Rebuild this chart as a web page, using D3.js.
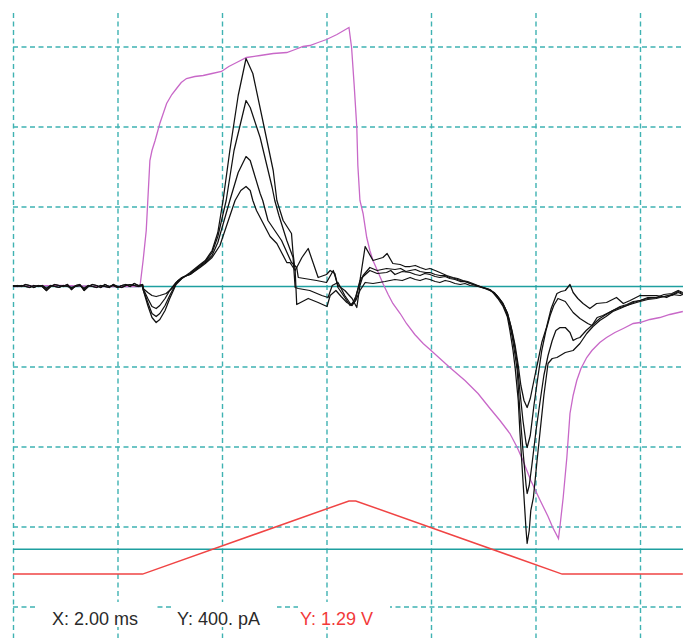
<!DOCTYPE html>
<html>
<head>
<meta charset="utf-8">
<script src="https://cdn.jsdelivr.net/npm/d3@7"></script>
<style>
  html, body { margin: 0; padding: 0; background: #fff; }
  svg { display: block; }
</style>
</head>
<body>
<svg id="chart" width="683" height="638"></svg>
<script>
// ---------------- DATA ----------------
// time in ms, current in pA, voltage in V
const xTicks = [0, 2, 4, 6, 8, 10, 12];
const yTicks = [1200, 800, 400, -400, -800, -1200, -1600];
const scaleLabels = ["X: 2.00 ms", "Y: 400. pA", "Y: 1.29 V"];

const baseT = [0,0.08,0.16,0.24,0.32,0.40,0.48,0.56,0.64,0.72,0.80,0.88,0.96,1.04,1.12,1.20,
               1.28,1.36,1.44,1.52,1.60,1.68,1.76,1.84,1.92,2.00,2.08,2.16,2.24,2.32,2.40,2.48];
const noiseA = [0,5,0,10,5,-5,5,0,-20,0,10,5,0,10,-15,5,10,-20,0,10,5,-5,10,0,5,-5,5,10,0,15,5,10];
const noiseB = [5,0,5,0,-5,5,0,5,-10,5,0,-5,5,0,-5,0,5,-10,5,0,-5,5,0,-5,10,0,-5,5,10,5,0,5];

const trace1 = [[2.49,-15],[2.58,-95],[2.66,-155],[2.74,-180],[2.81,-165],[2.91,-120],[3.00,-60],[3.12,10],[3.23,40],
  [3.39,70],[3.58,110],[3.68,130],[3.81,180],[3.92,270],[4.02,430],[4.15,680],[4.31,955],[4.46,1140],[4.59,1065],
  [4.78,830],[4.98,580],[5.05,430],[5.17,330],[5.33,265],[5.36,165],[5.40,80],[5.43,-90],[5.65,-60],[5.84,-80],
  [6.01,-100],[6.07,-45],[6.18,-20],[6.28,-50],[6.39,-80],[6.49,-95],[6.56,-70],[6.64,-20],[6.74,20],[6.89,15],
  [7.12,25],[7.31,35],[7.45,30],[7.60,45],[7.70,35],[7.79,30],[7.90,40],[7.98,35],[8.08,25],[8.17,20],[8.27,30],
  [8.36,25],[8.46,15],[8.56,10],[8.65,15],[8.75,5],[8.90,0],
  [9.03,-10],[9.17,-25],[9.28,-60],[9.38,-100],[9.46,-150],[9.51,-220],[9.57,-320],[9.61,-405],[9.67,-570],
  [9.70,-720],[9.76,-970],[9.82,-1220],[9.84,-1285],[9.88,-1220],[9.91,-1120],[9.96,-1055],[10.03,-870],
  [10.09,-720],[10.16,-545],[10.24,-385],[10.32,-360],[10.41,-355],[10.57,-330],[10.72,-320],[10.85,-285],
  [10.98,-235],[11.10,-200],[11.23,-170],[11.35,-150],[11.48,-125],[11.62,-110],[11.75,-95],[11.87,-85],
  [12.00,-75],[12.15,-65],[12.31,-60],[12.46,-50],[12.61,-45],[12.73,-30],[12.82,-40]];

const trace2 = [[2.49,-15],[2.58,-80],[2.66,-135],[2.74,-150],[2.81,-135],[2.91,-95],[3.00,-45],[3.12,15],[3.23,40],
  [3.39,65],[3.58,105],[3.68,125],[3.81,170],[3.92,250],[4.08,430],[4.23,680],[4.46,930],[4.54,895],[4.73,745],
  [4.96,495],[5.01,430],[5.09,355],[5.24,230],[5.36,145],[5.40,-5],[5.46,-10],[5.68,-20],[5.91,-45],[6.03,-55],
  [6.11,5],[6.22,20],[6.35,-45],[6.48,-95],[6.56,-50],[6.66,40],[6.83,80],[6.97,65],[7.15,70],[7.23,80],[7.31,60],
  [7.45,75],[7.60,70],[7.70,60],[7.79,55],[7.88,65],[7.98,60],[8.08,50],[8.17,45],[8.27,50],[8.36,40],[8.46,35],
  [8.56,25],[8.65,25],[8.75,15],[8.94,0],
  [9.07,-10],[9.21,-30],[9.32,-65],[9.42,-110],[9.49,-170],[9.55,-245],[9.61,-345],[9.65,-420],[9.70,-620],
  [9.76,-820],[9.82,-995],[9.84,-1035],[9.88,-995],[9.93,-895],[10.01,-720],[10.09,-570],[10.16,-445],
  [10.24,-345],[10.32,-270],[10.39,-220],[10.47,-205],[10.57,-205],[10.66,-230],[10.72,-270],[10.79,-260],
  [10.85,-255],[10.97,-220],[11.10,-190],[11.23,-160],[11.35,-140],[11.48,-120],[11.62,-100],[11.75,-90],
  [11.87,-75],[12.00,-70],[12.15,-55],[12.31,-55],[12.46,-40],[12.61,-35],[12.73,-20],[12.82,-30]];

const trace3 = [[2.49,-10],[2.58,-60],[2.66,-100],[2.74,-110],[2.81,-95],[2.91,-60],[3.00,-20],[3.12,20],[3.23,45],
  [3.39,60],[3.58,100],[3.68,120],[3.81,155],[3.92,220],[4.15,430],[4.31,570],[4.46,650],[4.54,630],[4.73,465],
  [4.78,430],[4.88,330],[5.14,230],[5.33,120],[5.43,95],[5.46,45],[5.81,30],[6.00,20],[6.13,80],[6.22,5],
  [6.35,-20],[6.49,-60],[6.58,-105],[6.64,5],[6.70,55],[6.83,95],[6.97,80],[7.15,90],[7.31,85],[7.42,90],
  [7.52,75],[7.60,80],[7.70,85],[7.79,75],[7.90,70],[7.98,70],[8.08,60],[8.17,55],[8.27,55],[8.36,45],[8.46,40],
  [8.56,30],[8.65,25],[8.75,15],[8.98,-5],
  [9.11,-15],[9.24,-40],[9.36,-80],[9.46,-130],[9.53,-200],[9.59,-280],[9.65,-380],[9.70,-520],[9.76,-670],
  [9.82,-785],[9.84,-805],[9.90,-745],[9.97,-595],[10.05,-445],[10.12,-320],[10.20,-220],[10.28,-145],
  [10.35,-95],[10.43,-60],[10.57,-75],[10.72,-130],[10.85,-160],[10.91,-170],[11.00,-185],[11.08,-195],
  [11.18,-155],[11.29,-145],[11.48,-120],[11.62,-105],[11.75,-95],[11.87,-80],[12.00,-70],[12.15,-60],
  [12.33,-55],[12.46,-50],[12.61,-40],[12.77,-45],[12.82,-40]];

const trace4 = [[2.49,-10],[2.58,-30],[2.66,-45],[2.74,-50],[2.81,-45],[2.93,-35],[3.04,-10],[3.16,30],[3.27,50],
  [3.39,60],[3.58,95],[3.68,115],[3.81,145],[3.96,205],[4.25,430],[4.36,480],[4.46,500],[4.54,480],[4.59,430],
  [4.66,380],[4.78,320],[4.92,250],[5.05,215],[5.24,120],[5.30,120],[5.40,80],[5.53,145],[5.65,190],[5.84,45],
  [6.00,60],[6.07,80],[6.16,65],[6.22,-5],[6.35,-55],[6.45,-95],[6.55,-70],[6.64,30],[6.74,200],[6.89,130],
  [7.08,145],[7.16,165],[7.27,115],[7.41,110],[7.50,100],[7.60,100],[7.70,105],[7.79,95],[7.90,85],[7.98,90],
  [8.08,80],[8.17,70],[8.30,55],[8.42,45],[8.51,40],[8.61,30],[8.70,25],[8.80,15],[8.99,-5],
  [9.13,-15],[9.26,-45],[9.38,-85],[9.47,-140],[9.55,-220],[9.61,-295],[9.67,-395],[9.72,-495],[9.78,-570],
  [9.84,-605],[9.90,-560],[9.97,-470],[10.05,-370],[10.12,-280],[10.21,-205],[10.30,-110],[10.41,-35],
  [10.49,-25],[10.57,-20],[10.66,10],[10.72,-30],[10.81,-60],[10.91,-85],[11.04,-110],[11.17,-85],
  [11.36,-80],[11.55,-55],[11.68,-85],[11.81,-70],[12.00,-45],[12.32,-45],[12.51,-55],[12.73,-25],[12.82,-35]];

const magentaTrace = [[0,0],[0.90,5],[1.67,0],[2.43,0],[2.49,130],[2.55,280],[2.58,430],[2.62,630],[2.66,680],
  [2.72,730],[2.81,815],[2.94,915],[3.04,960],[3.13,990],[3.22,1020],[3.32,1040],[3.48,1050],[3.64,1055],
  [3.81,1065],[3.99,1075],[4.13,1100],[4.28,1120],[4.47,1145],[4.73,1155],[4.98,1165],[5.24,1170],[5.40,1185],
  [5.55,1200],[5.68,1205],[5.84,1220],[6.00,1235],[6.20,1260],[6.43,1295],[6.48,1195],[6.53,1005],[6.58,795],
  [6.60,605],[6.64,430],[6.70,365],[6.77,245],[6.83,180],[6.89,130],[6.99,70],[7.08,15],[7.18,-40],[7.27,-85],
  [7.41,-135],[7.53,-185],[7.69,-240],[7.85,-285],[7.98,-315],[8.17,-360],[8.36,-405],[8.65,-470],[8.90,-535],
  [9.13,-610],[9.32,-670],[9.51,-735],[9.65,-805],[9.76,-870],[9.91,-970],[10.09,-1070],[10.24,-1150],
  [10.33,-1205],[10.44,-1260],[10.47,-1195],[10.53,-1055],[10.60,-855],[10.66,-635],[10.72,-545],[10.79,-470],
  [10.87,-410],[10.98,-355],[11.08,-320],[11.23,-280],[11.36,-255],[11.52,-230],[11.68,-210],[11.87,-185],
  [12.00,-180],[12.19,-165],[12.38,-155],[12.57,-140],[12.82,-125]];

const voltT = [0, 2.48, 6.43, 6.56, 10.51, 12.82];
const voltV = [-0.40, -0.40, 0.78, 0.78, -0.40, -0.40];

// ---------------- CHART ----------------
const svg = d3.select("#chart");
const W = 683, H = 638;
const padLeft = 13, padTop = 13;

const x = d3.scaleLinear().domain([0, 12]).range([13, 640]);
const yI = d3.scaleLinear().domain([-1600, 1200]).range([606.5, 46.5]);
const yV = d3.scaleLinear().domain([0, 1.29]).range([549.3, 469.3]);

const gridColor = "#3fb2b2";
const solidColor = "#1e9fa0";
const dash = "5,3.5";

svg.append("rect").attr("width", W).attr("height", H).attr("fill", "#fff");

// vertical grid via axis
const gx = svg.append("g")
  .attr("transform", `translate(0,${padTop})`)
  .call(d3.axisBottom(x).tickValues(xTicks).tickSize(H - padTop).tickFormat(""));
gx.select(".domain").remove();
gx.selectAll(".tick line")
  .attr("stroke", gridColor).attr("stroke-width", 1.4).attr("stroke-dasharray", dash);

// horizontal grid via axis
const gy = svg.append("g")
  .attr("transform", `translate(${padLeft},0)`)
  .call(d3.axisRight(yI).tickValues(yTicks).tickSize(W - padLeft).tickFormat(""));
gy.select(".domain").remove();
gy.selectAll(".tick line")
  .attr("stroke", gridColor).attr("stroke-width", 1.4).attr("stroke-dasharray", dash);

// solid baselines (current zero and voltage zero)
svg.append("line").attr("x1", padLeft).attr("x2", W)
  .attr("y1", yI(0)).attr("y2", yI(0))
  .attr("stroke", solidColor).attr("stroke-width", 1.5);
svg.append("line").attr("x1", padLeft).attr("x2", W)
  .attr("y1", yV(0)).attr("y2", yV(0))
  .attr("stroke", solidColor).attr("stroke-width", 1.5);

const lineI = d3.line().x(d => x(d[0])).y(d => yI(d[1]));
const lineV = d3.line().x(d => x(d[0])).y(d => yV(d[1]));

// magenta trace
svg.append("path").datum(magentaTrace).attr("d", lineI)
  .attr("fill", "none").attr("stroke", "#c868c8").attr("stroke-width", 1.3);

// black traces
const withBase = (noise, tr) => baseT.map((t, i) => [t, noise[i]]).concat(tr);
const blackTraces = [withBase(noiseA, trace1), withBase(noiseB, trace2),
                     withBase(noiseB, trace3), withBase(noiseA, trace4)];
svg.append("g").selectAll("path").data(blackTraces).join("path")
  .attr("d", lineI).attr("fill", "none").attr("stroke", "#111")
  .attr("stroke-width", 1.25).attr("stroke-linejoin", "round");

// red voltage trace
svg.append("path").datum(voltT.map((t, i) => [t, voltV[i]])).attr("d", lineV)
  .attr("fill", "none").attr("stroke", "#f04444").attr("stroke-width", 1.5);

// scale labels with white boxes
const boxes = [[37, 157], [173, 277], [298, 390]];
const labelX = [52, 177, 300];
const labelColors = ["#2a2a2a", "#2a2a2a", "#f23a3a"];
boxes.forEach((b) => {
  svg.append("rect").attr("x", b[0]).attr("y", 602).attr("width", b[1] - b[0]).attr("height", 25)
    .attr("fill", "#fff");
});
svg.append("g").selectAll("text").data(scaleLabels).join("text")
  .attr("x", (d, i) => labelX[i]).attr("y", 625)
  .attr("fill", (d, i) => labelColors[i])
  .style("font-family", "'Liberation Sans', Arial, sans-serif")
  .style("font-size", "18px")
  .text(d => d);
</script>
</body>
</html>
